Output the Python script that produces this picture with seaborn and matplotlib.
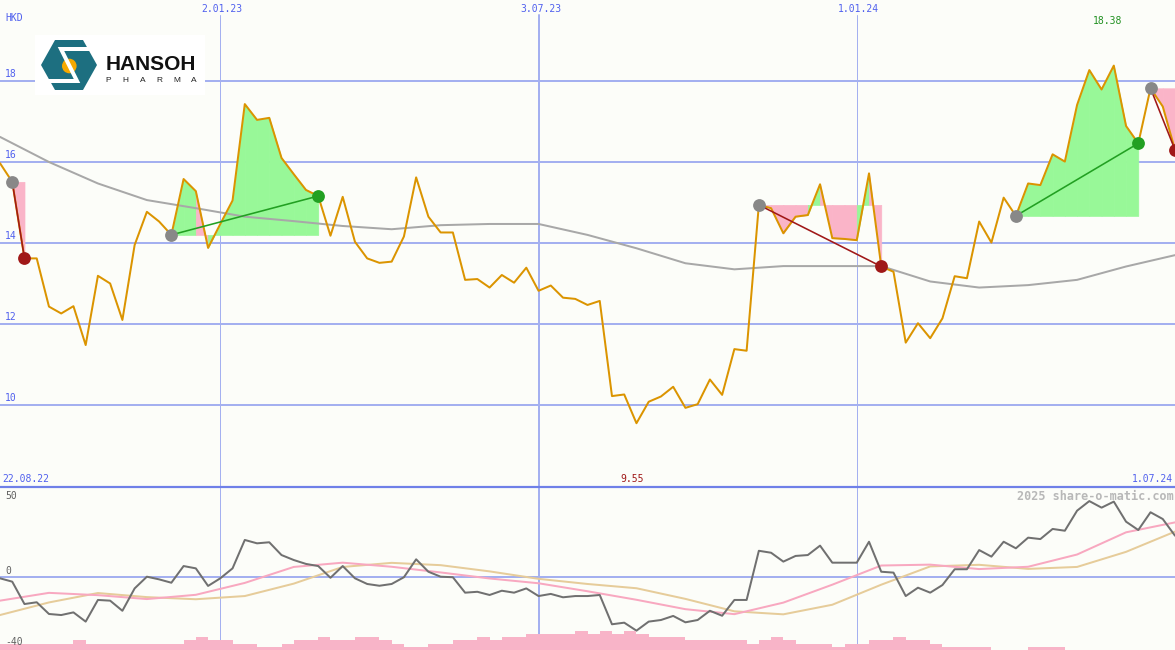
import numpy as np
import pandas as pd
import matplotlib
matplotlib.use("Agg")
import matplotlib.pyplot as plt
import matplotlib.dates as mdates
from matplotlib.patches import Polygon, Circle
from matplotlib.lines import Line2D
import seaborn as sns

# ---------------- data ----------------
start_date = "2022-08-29"
n_weeks = 97
price = [15.97, 15.51, 13.62, 13.62, 12.43, 12.26, 12.44, 11.48, 13.19, 13.00,
         12.10, 13.95, 14.77, 14.53, 14.20, 15.58, 15.28, 13.88, 14.47, 15.05,
         17.43, 17.04, 17.09, 16.10, 15.70, 15.31, 15.16, 14.18, 15.14, 14.03,
         13.62, 13.51, 13.54, 14.16, 15.62, 14.65, 14.26, 14.26, 13.09, 13.11,
         12.90, 13.21, 13.02, 13.39, 12.82, 12.95, 12.65, 12.62, 12.47, 12.57,
         10.22, 10.26, 9.55, 10.08, 10.21, 10.45, 9.93, 10.02, 10.63, 10.25,
         11.38, 11.34, 14.94, 14.86, 14.24, 14.65, 14.69, 15.45, 14.12, 14.10,
         14.07, 15.72, 13.42, 13.29, 11.54, 12.02, 11.65, 12.14, 13.18, 13.13,
         14.53, 14.01, 15.12, 14.67, 15.47, 15.43, 16.19, 16.01, 17.41, 18.27,
         17.79, 18.38, 16.89, 16.46, 17.82, 17.37, 16.30]

# long moving average of price, every 4 weeks
ma_weeks = list(range(0, 97, 4))
price_ma = [16.62, 16.00, 15.47, 15.06, 14.86, 14.65, 14.54, 14.42, 14.34, 14.44,
            14.47, 14.47, 14.20, 13.87, 13.50, 13.35, 13.43, 13.43, 13.43, 13.05,
            12.90, 12.96, 13.09, 13.42, 13.70]

# signals: (entry week, exit week)
signals = [(1, 2), (14, 26), (62, 72), (83, 93), (94, 96)]

momentum = [-0.9, -2.8, -15.4, -14.4, -21.0, -21.6, -20.1, -25.3, -13.1, -13.5,
            -19.2, -6.6, 0.0, -1.5, -3.4, 6.0, 4.7, -5.2, -0.9, 4.7,
            20.7, 18.8, 19.4, 12.2, 9.4, 7.2, 6.0, -0.6, 6.0, -0.9,
            -4.1, -5.1, -4.1, -0.3, 9.8, 2.8, 0.0, -0.3, -9.0, -8.5,
            -10.3, -7.9, -9.0, -6.6, -10.9, -9.7, -11.6, -10.9, -10.9, -10.3,
            -26.8, -25.9, -30.4, -25.3, -24.4, -22.1, -25.7, -24.4, -19.2, -22.0,
            -13.1, -13.1, 14.6, 13.5, 8.5, 11.7, 12.2, 17.5, 7.9, 7.9,
            7.9, 19.7, 2.8, 2.3, -10.9, -6.2, -9.0, -4.7, 4.2, 4.2,
            15.0, 11.3, 19.7, 16.0, 22.0, 21.2, 26.9, 25.9, 37.2, 42.6,
            38.9, 42.3, 31.0, 26.3, 36.3, 32.5, 23.1]

mom_ma_fast = [-13.5, -9.1, -10.4, -12.6, -10.2, -3.5, 5.5, 7.9, 5.6, 2.4,
               -1.0, -3.7, -8.2, -13.0, -18.3, -21.1, -14.6, -4.5, 6.3, 6.8,
               4.3, 5.6, 12.5, 25.0, 30.6]
mom_ma_slow = [-21.6, -14.5, -9.2, -11.5, -12.7, -10.9, -3.9, 5.5, 7.8, 6.5,
               3.0, -1.2, -4.1, -6.5, -12.5, -19.5, -21.2, -15.8, -4.5, 5.8,
               6.7, 4.4, 5.5, 14.0, 25.4]

volume = [2, 2, 2, 2, 2, 2, 3, 2, 2, 2, 2, 2, 2, 2, 2, 3, 4, 3, 3, 2,
          2, 1, 1, 2, 3, 3, 4, 3, 3, 4, 4, 3, 2, 1, 1, 2, 2, 3, 3, 4,
          3, 4, 4, 5, 5, 5, 5, 6, 5, 6, 5, 6, 5, 4, 4, 4, 3, 3, 3, 3,
          3, 2, 3, 4, 3, 2, 2, 2, 1, 2, 2, 3, 3, 4, 3, 3, 2, 1, 1, 1,
          1, 0, 0, 0, 1, 1, 1, 0, 0, 0, 0, 0, 0, 0, 0, 0, 0]

price_ticks = [10, 12, 14, 16, 18]
mom_ticks = [50, 0, -40]
date_lines = ["2023-01-02", "2023-07-03", "2024-01-01"]
date_labels = ["2.01.23", "3.07.23", "1.01.24"]
left_label, right_label = "22.08.22", "1.07.24"
currency = "HKD"
watermark = "2025 share-o-matic.com"

# ---------------- style ----------------
W, H = 1175, 650
BG = "#fcfdf9"
GRID = "#a4b0f0"
SEP = "#6f80e8"
LBL = "#5060ee"
ORANGE = "#db9400"
MA_GRAY = "#a8a8a8"
GREEN_FILL = "#98f898"
PINK_FILL = "#fab4c8"
GREEN = "#22a022"
DRED = "#a01818"
PX = 0.72  # points per pixel

sns.set_style("white")
plt.rcParams["font.family"] = ["DejaVu Sans Mono"]

dates = pd.date_range(start_date, periods=n_weeks, freq="7D")
xn = mdates.date2num(dates)
xma = xn[ma_weeks]
price_a = np.array(price)

fig = plt.figure(figsize=(W / 100, H / 100), dpi=100)
fig.patch.set_facecolor(BG)

ax = fig.add_axes([0, 163 / H, 1, 487 / H])
axm = fig.add_axes([0, 0, 1, 163 / H])
for a in (ax, axm):
    a.set_facecolor(BG)
    for s in a.spines.values():
        s.set_visible(False)
    a.set_xticks([])
    a.set_yticks([])
    a.set_xlim(xn[0], xn[-1])

ax.set_ylim(20 - 487 / 40.5, 20)
axm.set_ylim(-(650 - 576.7) / 1.775, (576.7 - 487) / 1.775)

# grid
for v in price_ticks:
    ax.axhline(v, color=GRID, lw=2 * PX, zorder=1)
for d, lab in zip(date_lines, date_labels):
    dn = mdates.date2num(pd.Timestamp(d))
    lw = 2 * PX if lab == "3.07.23" else 1 * PX
    ax.axvline(dn, ymax=1 - 15 / 487, color=GRID, lw=lw, zorder=1)
    axm.axvline(dn, color=GRID, lw=lw, zorder=1)
    ax.annotate(lab, xy=(dn, 1), xycoords=("data", "axes fraction"),
                xytext=(2, -9), textcoords="offset pixels", ha="center",
                va="center", color=LBL, fontsize=7)
axm.axhline(0, color=GRID, lw=2 * PX, zorder=1)
fig.add_artist(Line2D([0, 1], [1 - 487 / H] * 2, transform=fig.transFigure,
                      color=SEP, lw=2.2 * PX, zorder=5))

# signal fills (per segment, coloured by the segment's end point)
for e, x in signals:
    lvl = price_a[e]
    for k in range(e, x):
        col = GREEN_FILL if price_a[k + 1] >= lvl else PINK_FILL
        ax.fill_between(xn[k:k + 2], price_a[k:k + 2], lvl, color=col,
                        lw=0.5, edgecolor=col, zorder=2)

# moving average and price
sns.lineplot(x=xma, y=price_ma, ax=ax, color=MA_GRAY, linewidth=2 * PX, zorder=3)
sns.lineplot(x=xn, y=price, ax=ax, color=ORANGE, linewidth=2 * PX, zorder=4)

for e, x in signals:
    up = price_a[x] >= price_a[e]
    c = GREEN if up else DRED
    ax.plot([xn[e], xn[x]], [price_a[e], price_a[x]], color=c, lw=1.6 * PX, zorder=5)
    ax.scatter([xn[e]], [price_a[e]], s=85, color="#888888", lw=0, zorder=6)
    ax.scatter([xn[x]], [price_a[x]], s=85, color=c, lw=0, zorder=6)

# price labels
for v in price_ticks:
    ax.annotate(str(v), xy=(0, v), xycoords=("axes fraction", "data"),
                xytext=(5, 2), textcoords="offset pixels", ha="left",
                va="bottom", color=LBL, fontsize=7)
fig.text(5 / W, 1 - 18 / H, currency, ha="left", va="center", color=LBL, fontsize=7)
fig.text(2 / W, 1 - 479 / H, left_label, ha="left", va="center", color=LBL, fontsize=7)
fig.text(1173 / W, 1 - 479 / H, right_label, ha="right", va="center", color=LBL, fontsize=7)

imax = int(np.argmax(price_a))
imin = int(np.argmin(price_a))
ax.annotate(f"{price_a[imax]:.2f}", xy=(xn[imax], 1), xycoords=("data", "axes fraction"),
            xytext=(-6, -21), textcoords="offset pixels", ha="center", va="center",
            color="#209020", fontsize=7)
ax.annotate(f"{price_a[imin]:.2f}", xy=(xn[imin], 0), xycoords=("data", "axes fraction"),
            xytext=(-4, 8), textcoords="offset pixels", ha="center", va="center",
            color=DRED, fontsize=7)

# ---------------- lower panel ----------------
sns.lineplot(x=xma, y=mom_ma_slow, ax=axm, color="#e6cc9a", linewidth=2 * PX, zorder=3)
sns.lineplot(x=xma, y=mom_ma_fast, ax=axm, color="#f8a8c0", linewidth=2 * PX, zorder=3)
sns.lineplot(x=xn, y=momentum, ax=axm, color="#707070", linewidth=2 * PX, zorder=4)

axv = axm.twinx()
axv.set_ylim(0, 163 / 3.2)
axv.set_xlim(xn[0], xn[-1])
axv.bar(xn, volume, width=7, align="edge", color="#f8b4c8", lw=0, zorder=2)
axv.set_yticks([])
for s in axv.spines.values():
    s.set_visible(False)

for v, ypx in zip(mom_ticks, [496, 571, 642]):
    fig.text(5 / W, 1 - ypx / H, str(v), ha="left", va="center", color="#606060", fontsize=7)
fig.text(1174 / W, 1 - 496 / H, watermark, ha="right", va="center",
         color="#b8b8b8", fontsize=8.5, fontweight="bold")

# ---------------- logo ----------------
lg = fig.add_axes([35 / W, 1 - 95 / H, 170 / W, 60 / H])
lg.set_xlim(35, 205)
lg.set_ylim(95, 35)
lg.set_facecolor("white")
lg.set_xticks([])
lg.set_yticks([])
for s in lg.spines.values():
    s.set_visible(False)
TEAL = "#1d6f80"
lg.add_patch(Polygon([(41, 65), (55, 40), (83, 40), (97, 65), (83, 90), (55, 90)],
                     closed=True, color=TEAL, lw=0))
lg.plot([93, 61, 77, 45], [49, 49, 81, 81], color="white", lw=4 * PX,
        solid_joinstyle="miter", solid_capstyle="butt")
lg.add_patch(Circle((69.3, 66), 7.3, color="#f5a800", lw=0))
lg.text(106, 64, "HANSOH", ha="left", va="center", fontsize=15, fontweight="bold",
        family=["Liberation Sans"], color="#111111")
for i, ch in enumerate("PHARMA"):
    lg.text(108 + i * 17.2, 80, ch, ha="center", va="center", fontsize=6,
            family=["Liberation Sans"], color="#222222")

fig.savefig("out.png", dpi=100, facecolor=BG)
